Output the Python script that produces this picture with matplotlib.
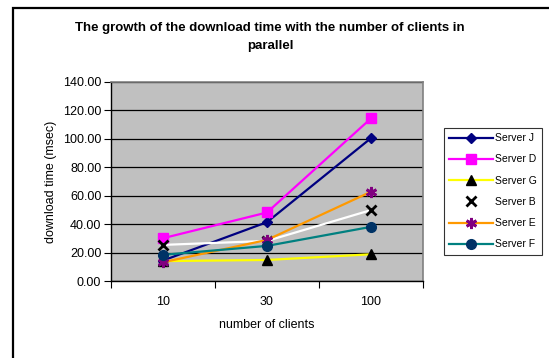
import matplotlib
matplotlib.use("Agg")
import matplotlib.pyplot as plt
from matplotlib.patches import Rectangle

plt.rcParams['font.family'] = ['Liberation Sans', 'DejaVu Sans']

clients = ["10", "30", "100"]
server_j = [14.4, 41.4, 100.5]
server_d = [30.1, 48.2, 114.4]
server_g = [14.0, 14.8, 18.8]
server_b = [25.4, 28.2, 49.9]
server_e = [13.2, 28.9, 62.8]
server_f = [18.4, 24.7, 38.1]
y_ticks = [0, 20, 40, 60, 80, 100, 120, 140]

series = [
    ("Server J", server_j, dict(color="#000080", marker="D", mfc="#000080", mec="#000080", ms=5.5)),
    ("Server D", server_d, dict(color="#FF00FF", marker="s", mfc="#FF00FF", mec="#FF00FF", ms=7)),
    ("Server G", server_g, dict(color="#FFFF00", marker="^", mfc="black", mec="black", ms=7)),
    ("Server B", server_b, dict(color="white", marker="x", mfc="black", mec="black", ms=7, mew=2)),
    ("Server E", server_e, dict(color="#FF9900", marker=(6, 2, 0), mfc="#800080", mec="#800080", ms=8, mew=2)),
    ("Server F", server_f, dict(color="#008080", marker="o", mfc="#003366", mec="#003366", ms=7)),
]

W, H = 549, 358
fig = plt.figure(figsize=(W / 100, H / 100), dpi=100)

# outer chart frame (runs off the right and bottom edges)
fig.patches.append(Rectangle((13 / W, -0.05), 1.2, (H - 8) / H + 0.05, transform=fig.transFigure,
                             fill=False, edgecolor="black", linewidth=1.6))

ax = fig.add_axes([111 / W, 77 / H, 312 / W, 199 / H])
ax.set_facecolor("#C0C0C0")
x = list(range(len(clients)))
handles = []
for name, vals, st in series:
    ln, = ax.plot(x, vals, linewidth=1.6, label=name, **st)
    handles.append(ln)

ax.set_xlim(-0.5, len(clients) - 0.5)
ax.set_ylim(0, 140)
ax.set_yticks(y_ticks)
ax.set_yticklabels([f"{v:.2f}" for v in y_ticks], fontsize=9)
ax.set_xticks([i - 0.5 for i in range(len(clients) + 1)])
ax.set_xticklabels([])
ax.set_xticks(x, minor=True)
ax.set_xticklabels(clients, minor=True, fontsize=9)
ax.tick_params(axis="x", which="minor", length=0, pad=11)
ax.tick_params(axis="x", which="major", length=5, direction="out", color="black")
ax.tick_params(axis="y", length=5, direction="out", color="black", pad=2)
ax.yaxis.grid(True, color="black", linewidth=0.9)
ax.set_axisbelow(True)
for s in ("top", "right"):
    ax.spines[s].set_color("#808080")
    ax.spines[s].set_linewidth(1.2)
for s in ("left", "bottom"):
    ax.spines[s].set_color("black")
    ax.spines[s].set_linewidth(1.0)

ax.set_xlabel("number of clients", fontsize=9, labelpad=8)
ax.set_ylabel("download time (msec)", fontsize=9, labelpad=4)

fig.text(270 / W, 1 - 37 / H, "The growth of the download time with the number of clients in\nparallel",
         ha="center", va="center", fontsize=9.5, fontweight="bold", linespacing=1.6)

leg = fig.legend(handles=handles, loc="upper left", bbox_to_anchor=(444 / W, 1 - 128 / H),
                 bbox_transform=fig.transFigure, fontsize=7.5, frameon=True, fancybox=False,
                 edgecolor="black", handlelength=4.2, handletextpad=0.2, labelspacing=1.08,
                 borderpad=0.5, borderaxespad=0)
leg.get_frame().set_linewidth(0.8)

fig.savefig("out.png", dpi=100)
